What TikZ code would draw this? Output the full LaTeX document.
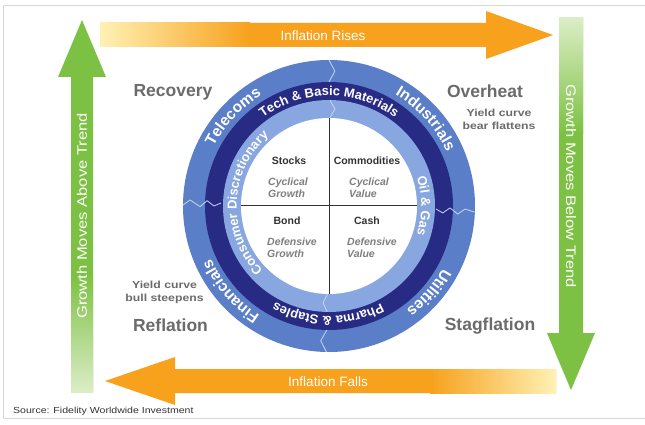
\documentclass[tikz,border=0pt]{standalone}
\usepackage{fontspec}
\setmainfont{Liberation Sans}
\newfontfamily\wsans[FakeStretch=1.2]{Liberation Sans}
\usetikzlibrary{decorations.text}
\definecolor{orangeMain}{HTML}{F7A11C}
\definecolor{orangePale}{HTML}{FFF1B5}
\definecolor{greenMain}{HTML}{7CC143}
\definecolor{greenPale}{HTML}{DCEDC6}
\definecolor{ringOuter}{HTML}{5A7EC8}
\definecolor{ringDark}{HTML}{272B83}
\definecolor{ringLight}{HTML}{88A6DF}
\definecolor{seam}{HTML}{C9D6F0}
\definecolor{labelGray}{HTML}{6B6B6B}
\definecolor{titleGray}{HTML}{333333}
\definecolor{italGray}{HTML}{7F7F7F}
\definecolor{frameGray}{HTML}{D8D8D8}
\newcommand\ringOfont{\color{white}\bfseries\fontsize{15.5}{15.5}\selectfont}
\newcommand\ringDfont{\color{white}\bfseries\fontsize{13}{13}\selectfont}
\newcommand\ringLfont{\color{white}\bfseries\fontsize{13}{13}\selectfont}
\begin{document}
\begin{tikzpicture}[x=1pt,y=1pt,
  phase/.style={font=\bfseries\fontsize{17.5}{17.5}\selectfont, text=labelGray, inner sep=0},
  yieldlbl/.style={font=\wsans\bfseries\fontsize{10.2}{13}\selectfont, text=labelGray, align=center, inner sep=0},
  quadtitle/.style={font=\bfseries\fontsize{10.5}{10.5}\selectfont, text=titleGray, inner sep=0},
  quaditem/.style={font=\bfseries\itshape\fontsize{10.5}{12}\selectfont, text=italGray, align=left, anchor=west, inner sep=0},
  infl/.style={font=\fontsize{13.5}{13.5}\selectfont, text=white, inner sep=0},
  growth/.style={font=\wsans\fontsize{13.8}{13.8}\selectfont, text=white, inner sep=0},
  srcstyle/.style={font=\wsans\fontsize{8.8}{8.8}\selectfont, text=titleGray, inner sep=0, anchor=west},
  seamline/.style={draw=seam, line width=0.8pt, line join=round},
  crossline/.style={draw=titleGray, line width=0.8pt},
]
\useasboundingbox (0,0) rectangle (645,424);
\fill[white] (0,0) rectangle (645,424);
\draw[frameGray, line width=0.8pt] (645,419) -- (3,419) -- (3,6) -- (645,6);

% top orange arrow
\fill[orangeMain] (100,377) -- (486,377) -- (486,365) -- (553,389) -- (486,413) -- (486,401) -- (100,401) -- cycle;
\shade[left color=orangePale, right color=orangeMain] (100,377) rectangle (250,401);
\node[infl] (rises) at (323,388) {Inflation Rises};

% bottom orange arrow
\fill[orangeMain] (556,55) -- (175,55) -- (175,67) -- (105,43) -- (175,19) -- (175,31) -- (556,31) -- cycle;
\shade[left color=orangeMain, right color=orangePale] (430,31) rectangle (556,55);
\node[infl] (falls) at (328,42) {Inflation Falls};

% left green arrow
\fill[greenMain] (71,32) -- (71,347) -- (58,347) -- (82,404) -- (106,347) -- (93,347) -- (93,32) -- cycle;
\shade[bottom color=greenPale, top color=greenMain] (71,32) rectangle (93,150);
\node[growth, rotate=90] (above) at (82,208) {Growth Moves Above Trend};

% right green arrow
\fill[greenMain] (559,406) -- (559,91) -- (547,91) -- (571,34) -- (595,91) -- (583,91) -- (583,406) -- cycle;
\shade[top color=greenPale, bottom color=greenMain] (559,290) rectangle (583,406);
\node[growth, rotate=-90] (below) at (571,238) {Growth Moves Below Trend};

% wheel
\begin{scope}[shift={(329,218)}]
\fill[ringOuter] (0,0) circle[radius=146pt];
\fill[ringDark] (0,0) circle[radius=124pt];
\fill[ringLight] (0,0) circle[radius=106pt];
\fill[white] (0,0) circle[radius=88pt];
\draw[crossline] (-88pt,1pt) -- (88pt,1pt);
\draw[crossline] (0.3pt,-88pt) -- (0.3pt,88pt);
% seams
\draw[seamline] (90:146pt) -- (87.5:135pt) -- (90:124pt);
\draw[seamline] (89.5:106pt) -- (86.5:97pt) -- (89.5:88pt);
\draw[seamline] (-91:146pt) -- (-93.5:135pt) -- (-91:124pt);
\draw[seamline] (-91:106pt) -- (-93.5:97pt) -- (-91:88pt);
\draw[seamline] (179.6:146pt) -- (177.5:139pt) -- (180.3:129pt) -- (177.5:122pt) -- (180:115pt) -- (178.4:108pt);
\draw[seamline] (-1.6:107pt) -- (-3.5:114pt) -- (-0.9:121pt) -- (-3.6:129pt) -- (-1.3:136pt) -- (-2.4:146pt);
% outer ring texts
\path[decorate, decoration={text along path, text align=center, text={|\ringOfont|Telecoms}}] (177:129.5pt) arc[start angle=177, end angle=97, radius=129.5pt];
\path[decorate, decoration={text along path, text align=center, text={|\ringOfont|Industrials}}] (82:129.5pt) arc[start angle=82, end angle=2, radius=129.5pt];
\path[decorate, decoration={text along path, text align=center, text={|\ringOfont|Utilities}}] (-1:129.5pt) arc[start angle=-1, end angle=-81, radius=129.5pt];
\path[decorate, decoration={text along path, text align=center, text={|\ringOfont|Financials}}] (-99:129.5pt) arc[start angle=-99, end angle=-179, radius=129.5pt];
% dark ring texts
\path[decorate, decoration={text along path, text align=center, text={|\ringDfont|Tech {\&} Basic Materials}}] (150:110.3pt) arc[start angle=150, end angle=30, radius=110.3pt];
\path[decorate, decoration={text along path, text align=center, text={|\ringDfont|Pharma {\&} Staples}}] (-30:110.3pt) arc[start angle=-30, end angle=-151, radius=110.3pt];
% light ring texts
\path[decorate, decoration={text along path, text align=center, text={|\ringLfont|Consumer Discretionary}}] (260:92.3pt) arc[start angle=260, end angle=95, radius=92.3pt];
\path[decorate, decoration={text along path, text align=center, text={|\ringLfont|Oil {\&} Gas}}] (50:92.3pt) arc[start angle=50, end angle=-50, radius=92.3pt];
\end{scope}

% quadrant texts
\node[quadtitle] (stocks) at (289,263) {Stocks};
\node[quaditem] (cycg) at (268,236.5) {Cyclical\\Growth};
\node[quadtitle] (commod) at (367,263) {Commodities};
\node[quaditem] (cycv) at (349,236.5) {Cyclical\\Value};
\node[quadtitle] (bond) at (287,203) {Bond};
\node[quaditem] (defg) at (267,176) {Defensive\\Growth};
\node[quadtitle] (cash) at (367,203) {Cash};
\node[quaditem] (defv) at (347,176) {Defensive\\Value};

% phase labels
\node[phase] (recovery) at (173,332) {Recovery};
\node[phase] (overheat) at (485,333) {Overheat};
\node[phase] (reflation) at (170.5,99) {Reflation};
\node[phase] (stagflation) at (490,98) {Stagflation};
\node[yieldlbl] (bearf) at (499,305) {Yield curve\\bear flattens};
\node[yieldlbl] (bulls) at (164.5,132) {Yield curve\\bull steepens};

\node[srcstyle] (source) at (13,13) {Source: Fidelity Worldwide Investment};
\end{tikzpicture}
\end{document}
